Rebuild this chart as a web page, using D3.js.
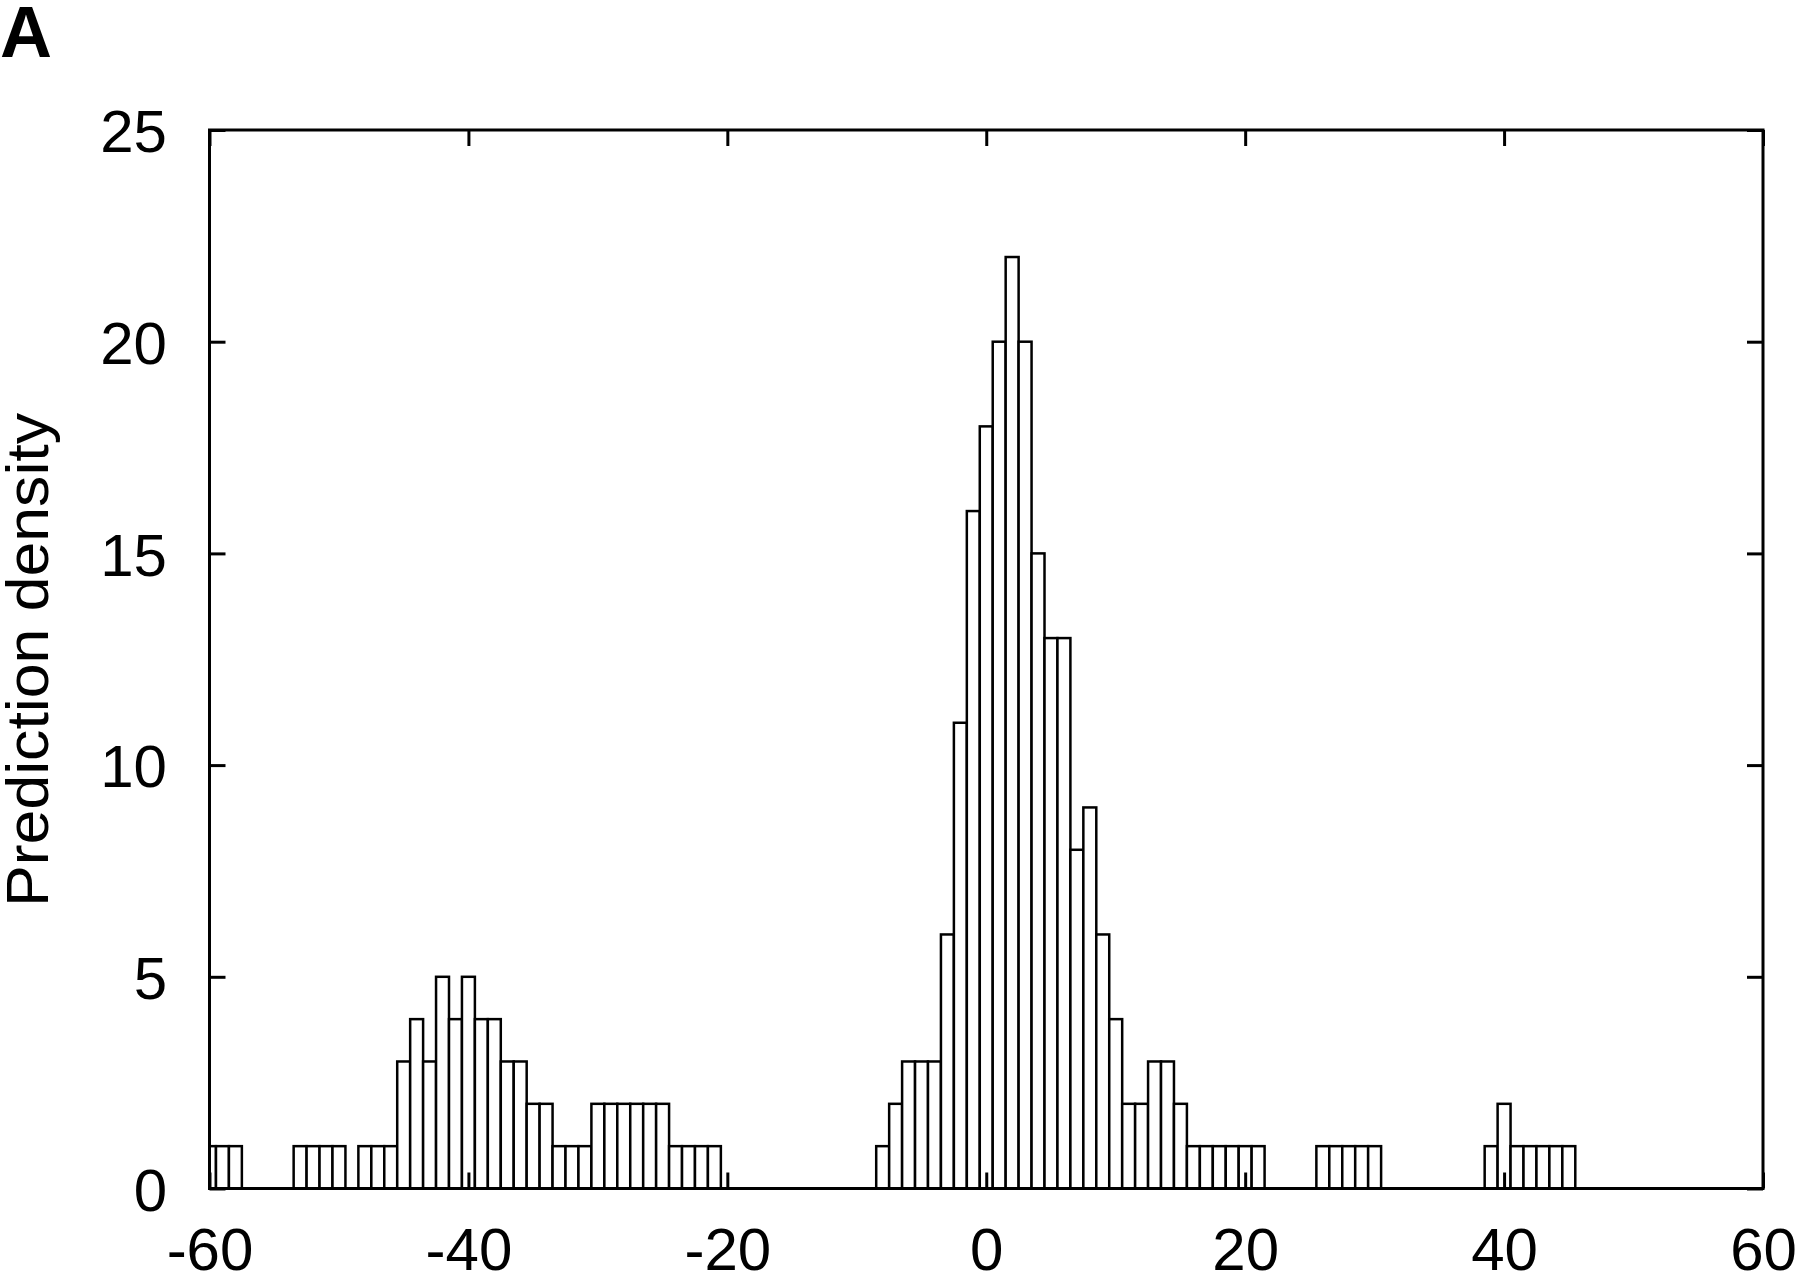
<!DOCTYPE html>
<html>
<head>
<meta charset="utf-8">
<script src="https://cdn.jsdelivr.net/npm/d3@7"></script>
<style>
  html, body { margin: 0; padding: 0; background: #fff; }
  svg { display: block; }
  text { font-family: "Liberation Sans", Arial, Helvetica, sans-serif; fill: #000; }
</style>
</head>
<body>
<svg id="chart" width="1800" height="1276"></svg>
<script>
// ---- data (bin centres, width 1; counts) ----
const binCenters = [
  -60, -59, -58,
  -53, -52, -51, -50,
  -48, -47, -46, -45, -44, -43, -42, -41, -40, -39, -38, -37, -36, -35,
  -34, -33, -32, -31, -30, -29, -28, -27, -26, -25, -24, -23, -22, -21,
  -8, -7, -6, -5, -4, -3, -2, -1, 0, 1, 2, 3, 4, 5, 6, 7, 8, 9, 10,
  11, 12, 13, 14, 15, 16, 17, 18, 19, 20, 21,
  26, 27, 28, 29, 30,
  39, 40, 41, 42, 43, 44, 45
];
const counts = [
  1, 1, 1,
  1, 1, 1, 1,
  1, 1, 1, 3, 4, 3, 5, 4, 5, 4, 4, 3, 3, 2,
  2, 1, 1, 1, 2, 2, 2, 2, 2, 2, 1, 1, 1, 1,
  1, 2, 3, 3, 3, 6, 11, 16, 18, 20, 22, 20, 15, 13, 13, 8, 9, 6, 4,
  2, 2, 3, 3, 2, 1, 1, 1, 1, 1, 1,
  1, 1, 1, 1, 1,
  1, 2, 1, 1, 1, 1, 1
];
const xTicks = [-60, -40, -20, 0, 20, 40, 60];
const yTicks = [0, 5, 10, 15, 20, 25];
const xDomain = [-60, 60];
const yDomain = [0, 25];
const yLabel = "Prediction density";
const panelLabel = "A";
const binWidth = 1;

// ---- layout ----
const L = 209.5, R = 1763, T = 130, B = 1188.5;
const svg = d3.select("#chart");

const x = d3.scaleLinear().domain(xDomain).range([L, R]);
const y = d3.scaleLinear().domain(yDomain).range([B, T]);

svg.append("defs").append("clipPath").attr("id", "plotclip")
  .append("rect").attr("x", L).attr("y", T - 5).attr("width", R - L).attr("height", B - T + 5);

const data = binCenters.map((c, i) => ({ c, n: counts[i] }));

svg.append("g").attr("clip-path", "url(#plotclip)")
  .selectAll("rect").data(data).join("rect")
  .attr("x", d => x(d.c - binWidth / 2))
  .attr("width", d => x(d.c + binWidth / 2) - x(d.c - binWidth / 2))
  .attr("y", d => y(d.n))
  .attr("height", d => y(0) - y(d.n))
  .attr("fill", "#fff")
  .attr("stroke", "#000")
  .attr("stroke-width", 2.5);

const fmt = d => String(d);
const tickLen = 16;

function styleAxis(g) {
  g.select(".domain").remove();
  g.selectAll(".tick line").attr("stroke", "#000").attr("stroke-width", 3);
  g.selectAll(".tick text").attr("font-size", 60).attr("fill", "#000")
    .attr("font-family", "'Liberation Sans', Arial, Helvetica, sans-serif");
}

// bottom
svg.append("g").attr("transform", `translate(0,${B})`)
  .call(d3.axisBottom(x).tickValues(xTicks).tickFormat(fmt)
    .tickSizeInner(-tickLen).tickSizeOuter(0).tickPadding(39))
  .call(styleAxis);
// top
svg.append("g").attr("transform", `translate(0,${T})`)
  .call(d3.axisTop(x).tickValues(xTicks).tickFormat("")
    .tickSizeInner(-tickLen).tickSizeOuter(0))
  .call(styleAxis);
// left
const gl = svg.append("g").attr("transform", `translate(${L},0)`)
  .call(d3.axisLeft(y).tickValues(yTicks).tickFormat(fmt)
    .tickSizeInner(-tickLen).tickSizeOuter(0).tickPadding(42.5))
  .call(styleAxis);
gl.selectAll(".tick text").attr("dy", "0.36em");
// right
svg.append("g").attr("transform", `translate(${R},0)`)
  .call(d3.axisRight(y).tickValues(yTicks).tickFormat("")
    .tickSizeInner(-tickLen).tickSizeOuter(0))
  .call(styleAxis);

// frame
svg.append("rect")
  .attr("x", L).attr("y", T).attr("width", R - L).attr("height", B - T)
  .attr("fill", "none").attr("stroke", "#000").attr("stroke-width", 3);

// y label
svg.append("text")
  .attr("transform", `translate(48,${(413 + 907) / 2}) rotate(-90)`)
  .attr("text-anchor", "middle")
  .attr("font-size", 60)
  .attr("textLength", 494)
  .attr("lengthAdjust", "spacingAndGlyphs")
  .text(yLabel);

// panel label
svg.append("text")
  .attr("x", 0).attr("y", 57)
  .attr("font-size", 72).attr("font-weight", "bold")
  .text(panelLabel);
</script>
</body>
</html>
